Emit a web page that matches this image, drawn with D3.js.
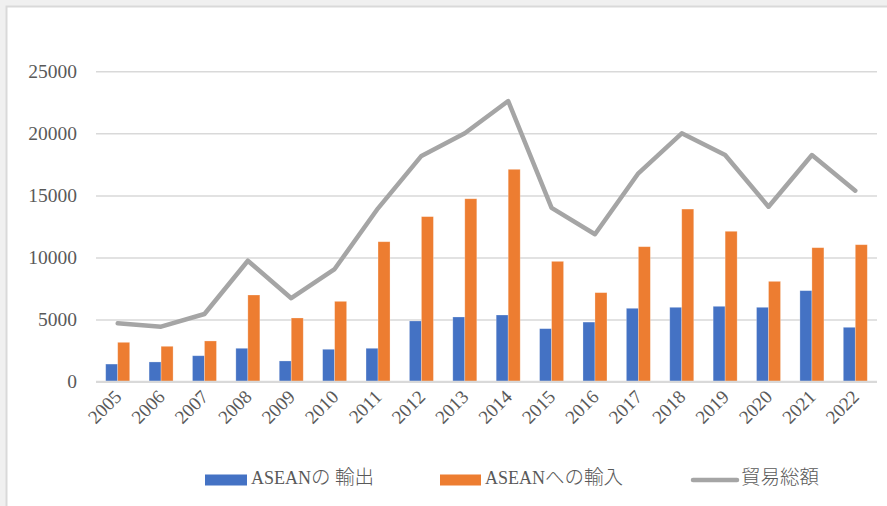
<!DOCTYPE html>
<html>
<head>
<meta charset="utf-8">
<script src="https://cdn.jsdelivr.net/npm/d3@7"></script>
<style>
    body { margin: 0; background: #f0f0f0; }
    #canvas { display: block; }
    .serif { font-family: "Liberation Serif", "DejaVu Serif", "Times New Roman", serif; }
    .jp { font-family: "Noto Sans CJK JP", sans-serif; font-weight: 300; }
</style>
</head>
<body>
<svg id="canvas" width="887" height="506"></svg>
<script>
let years = ["2005", "2006", "2007", "2008", "2009", "2010", "2011", "2012", "2013",
             "2014", "2015", "2016", "2017", "2018", "2019", "2020", "2021", "2022"]
let exportValues = [1420, 1590, 2090, 2690, 1670, 2610, 2690, 4890, 5210,
                    5370, 4270, 4800, 5910, 5990, 6070, 5990, 7330, 4380]
let importValues = [3170, 2850, 3280, 6980, 5130, 6470, 11270, 13290, 14730,
                    17100, 9690, 7170, 10870, 13900, 12110, 8080, 10790, 11030]
let totalValues = [4700, 4430, 5450, 9740, 6720, 9070, 13960, 18180, 20000,
                   22600, 13990, 11870, 16780, 20000, 18250, 14090, 18250, 15380]
let yTicks = [0, 5000, 10000, 15000, 20000, 25000]
let seriesNames = ["ASEANの 輸出", "ASEANへの輸入", "貿易総額"]

let blue = "#4472c4"
let orange = "#ed7d31"
let gray = "#a5a5a5"
let textColor = "#595959"

let canvas = d3.select("#canvas")

// white chart area with the thin frame at top/left
canvas.append("rect")
    .attr("x", 6.5).attr("y", 6.5)
    .attr("width", 890).attr("height", 510)
    .attr("fill", "white")
    .attr("stroke", "#d9d9d9")
    .attr("stroke-width", 2)

let xScale = d3.scaleBand()
    .domain(years)
    .range([96, 877])
    .paddingInner(0.447)
    .paddingOuter(0.2235)

let subScale = d3.scaleBand()
    .domain([0, 1])
    .range([0, xScale.bandwidth()])

let yScale = d3.scaleLinear()
    .domain([0, 25000])
    .range([381.7, 71.2])

// gridlines + y labels
let yAxis = d3.axisLeft(yScale)
    .tickValues(yTicks)
    .tickFormat(d3.format("d"))
    .tickSize(-(877 - 96))
    .tickPadding(19)

let yG = canvas.append("g")
    .attr("transform", "translate(96, 0)")
    .call(yAxis)
yG.attr("font-family", null).attr("font-size", null)
yG.select(".domain").remove()
yG.selectAll(".tick line")
    .attr("stroke", "#d9d9d9")
    .attr("stroke-width", 1.5)
yG.selectAll(".tick text")
    .attr("class", "serif")
    .attr("fill", textColor)
    .style("font-size", "19.5px")

// bars
let barData = years.map((year, i) => {
    return [
        { year: year, k: 0, value: exportValues[i], color: blue },
        { year: year, k: 1, value: importValues[i], color: orange }
    ]
}).flat()

canvas.selectAll("rect.bar")
    .data(barData)
    .enter()
    .append("rect")
    .attr("class", "bar")
    .attr("x", (d) => xScale(d.year) + subScale(d.k))
    .attr("y", (d) => yScale(d.value))
    .attr("width", subScale.bandwidth())
    .attr("height", (d) => yScale(0) - yScale(d.value))
    .attr("fill", (d) => d.color)
    .attr("stroke", "white")
    .attr("stroke-opacity", 0.35)
    .attr("stroke-width", 0.75)

// x baseline
canvas.append("line")
    .attr("x1", 96).attr("x2", 877)
    .attr("y1", yScale(0)).attr("y2", yScale(0))
    .attr("stroke", "#d9d9d9")
    .attr("stroke-width", 2)

// total line
let line = d3.line()
    .x((d, i) => xScale(years[i]) + xScale.bandwidth() / 2)
    .y((d) => yScale(d))

canvas.append("path")
    .datum(totalValues)
    .attr("d", line)
    .attr("fill", "none")
    .attr("stroke", gray)
    .attr("stroke-width", 4.5)
    .attr("stroke-linejoin", "round")
    .attr("stroke-linecap", "round")

// x labels, rotated
canvas.append("g")
    .selectAll("text")
    .data(years)
    .enter()
    .append("text")
    .attr("class", "serif")
    .attr("transform", (d) => {
        let cx = xScale(d) + xScale.bandwidth() / 2 + 5
        return "translate(" + cx + ", 398) rotate(-45)"
    })
    .attr("text-anchor", "end")
    .attr("fill", textColor)
    .style("font-size", "19px")
    .text((d) => d)

// legend
let legend = canvas.append("g").attr("id", "legend")
let legendX = [205, 440, 691]
let legendTextX = [251, 485, 741]

legend.append("rect")
    .attr("x", legendX[0]).attr("y", 474.5)
    .attr("width", 42).attr("height", 11)
    .attr("fill", blue)
legend.append("rect")
    .attr("x", legendX[1]).attr("y", 474.5)
    .attr("width", 41).attr("height", 11)
    .attr("fill", orange)
legend.append("line")
    .attr("x1", legendX[2] + 2).attr("x2", legendX[2] + 46)
    .attr("y1", 480).attr("y2", 480)
    .attr("stroke", gray)
    .attr("stroke-width", 4.5)
    .attr("stroke-linecap", "round")

// split each name into latin / japanese runs
let splitRuns = (name) => {
    let runs = []
    name.split("").forEach((ch) => {
        let jp = ch.charCodeAt(0) > 255
        if (runs.length && runs[runs.length - 1].jp === jp) {
            runs[runs.length - 1].t += ch
        } else {
            runs.push({ t: ch, jp: jp })
        }
    })
    return runs
}

legend.selectAll("text")
    .data(seriesNames)
    .enter()
    .append("text")
    .attr("x", (d, i) => legendTextX[i])
    .attr("y", 484)
    .attr("fill", textColor)
    .attr("xml:space", "preserve")
    .each(function (d) {
        d3.select(this).selectAll("tspan")
            .data(splitRuns(d))
            .enter()
            .append("tspan")
            .attr("class", (r) => r.jp ? "jp" : "serif")
            .style("font-size", (r) => r.jp ? "19.5px" : "18px")
            .text((r) => r.t)
    })
</script>
</body>
</html>
